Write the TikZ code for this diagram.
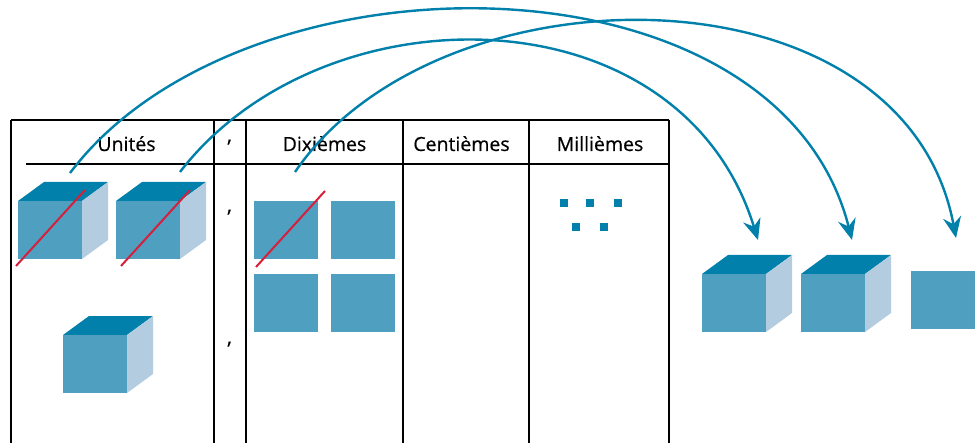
\documentclass[tikz,border=0pt]{standalone}
\usepackage{fontspec}
\setmainfont{Open Sans}
\newfontfamily\labelfont[FakeBold=0.5]{Open Sans}
\usetikzlibrary{arrows.meta}
\definecolor{cubefront}{HTML}{4F9FC1}
\definecolor{cubetop}{HTML}{0080AA}
\definecolor{cubeside}{HTML}{B3CCDF}
\definecolor{crossred}{HTML}{D4203C}
\tikzset{
  grid/.style={line width=1.4pt, black},
  head/.style={font=\labelfont\fontsize{19.5}{22}\selectfont, anchor=base, inner sep=0pt},
  sep/.style={font=\labelfont\fontsize{20}{22}\selectfont, anchor=base, inner sep=0pt},
  cross/.style={crossred, line width=2pt},
  move/.style={cubetop, line width=2.4pt,
    -{Stealth[length=21pt, width=18pt, inset=7pt]}},
  cube/.pic={
    \fill[cubetop] (0,0) -- ++(26,-19) -- ++(64,0) -- ++(-26,19) -- cycle;
    \fill[cubeside] (64,0) -- ++(26,-19) -- ++(0,58) -- ++(-26,19) -- cycle;
    \fill[cubefront] (0,0) rectangle (64,58);
  },
  plate/.pic={\fill[cubefront] (0,0) rectangle (64,58);},
  dot/.pic={\fill[cubetop] (0,0) rectangle (8,8);}
}
\begin{document}
\begin{tikzpicture}[x=1pt, y=-1pt]
\useasboundingbox (0,0) rectangle (976,443);

% table frame
\draw[grid] (11,120) -- (669,120);
\draw[grid] (26,164) -- (669,164);
\foreach \c in {11,214,246,403,529,669} \draw[grid] (\c,120) -- (\c,443);

% column headings
\node[head] (hu) at (126.5,151) {Unités};
\node[head] (hd) at (324.5,151) {Dixièmes};
\node[head] (hc) at (461.5,151) {Centièmes};
\node[head] (hm) at (600,151) {Millièmes};
\node[sep] (c0) at (229.5,142) {,};
\node[sep] (c1) at (229.5,212) {,};
\node[sep] (c2) at (229.5,344) {,};

% units
\pic (u1) at (18,201) {cube};
\pic (u2) at (116,201) {cube};
\pic (u3) at (63,335) {cube};
% tenths
\pic (d1) at (254,201) {plate};
\pic (d2) at (331,201) {plate};
\pic (d3) at (254,274) {plate};
\pic (d4) at (331,274) {plate};
% thousandths
\pic at (560,199) {dot};
\pic at (586,199) {dot};
\pic at (614,199) {dot};
\pic at (572,223) {dot};
\pic at (600,223) {dot};
% exchanged pieces
\pic (r1) at (702,274) {cube};
\pic (r2) at (801,274) {cube};
\pic (r3) at (911,271) {plate};

% crossed-out pieces
\coordinate (x1a) at (16,266);  \coordinate (x1b) at (85,190);
\coordinate (x2a) at (121,266); \coordinate (x2b) at (190,190);
\coordinate (x3a) at (256,267); \coordinate (x3b) at (325,191);
\draw[cross] (x1a) -- (x1b);
\draw[cross] (x2a) -- (x2b);
\draw[cross] (x3a) -- (x3b);

% exchange arrows
\coordinate (s1) at (70,173);  \coordinate (e1) at (852,240);
\coordinate (s2) at (180,172); \coordinate (e2) at (758,240);
\coordinate (s3) at (295,172); \coordinate (e3) at (956,238);
\draw[move] (s1) .. controls (242,-55) and (777,-55) .. (e1);
\draw[move] (s2) .. controls (322,-13) and (680,-13) .. (e2);
\draw[move] (s3) .. controls (439,-39) and (904,-39) .. (e3);
\end{tikzpicture}
\end{document}
